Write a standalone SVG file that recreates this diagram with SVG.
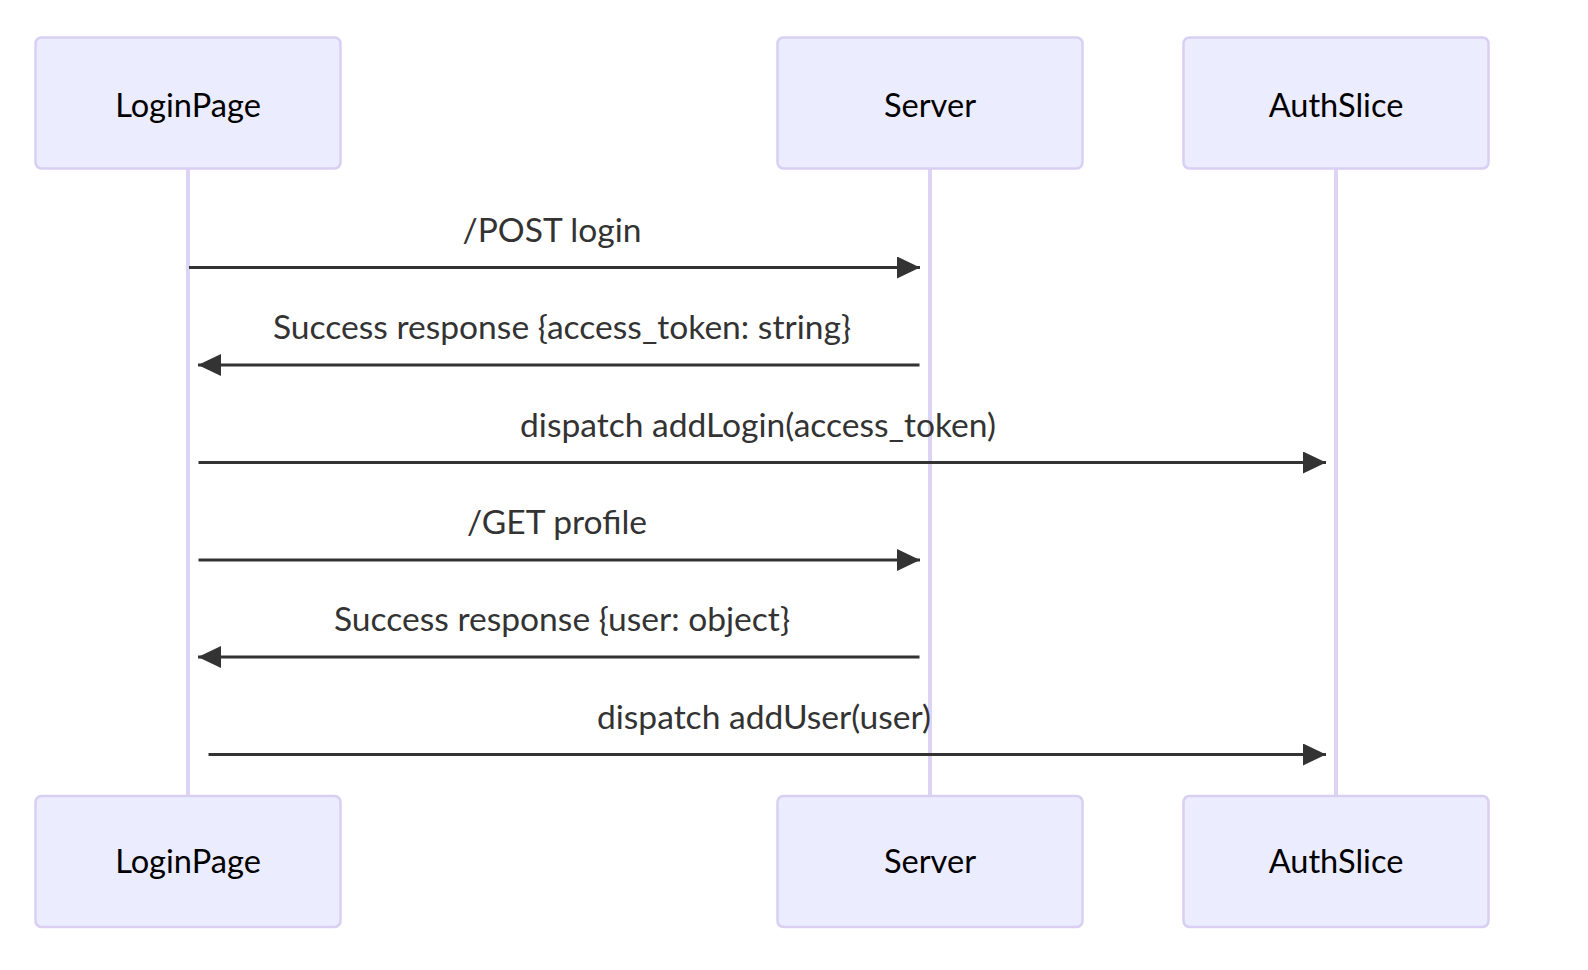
<svg xmlns="http://www.w3.org/2000/svg" width="1588" height="970" viewBox="0 0 1588 970">
<style>
.actor{fill:#ECECFF;stroke:#D8CFF3;stroke-width:2.5}
.atext{font-family:Lato,"Liberation Sans",sans-serif;font-size:32.6px;fill:#000;text-anchor:middle}
.life{stroke:#DCD3F5;stroke-width:4}
.msg{stroke:#333;stroke-width:3;fill:none;marker-end:url(#arrow)}
.mtext{font-family:Lato,"Liberation Sans",sans-serif;font-size:33.6px;fill:#333;text-anchor:middle}
</style>
<defs>
<marker id="arrow" markerUnits="userSpaceOnUse" markerWidth="24" markerHeight="24" refX="23" refY="11" orient="auto">
<path d="M0,0 L23,11 L0,22 z" fill="#333"/>
</marker>
</defs>
<rect width="1588" height="970" fill="#fff"/>
<g id="lifelines">
<line class="life" x1="188" y1="169" x2="188" y2="796"/>
<line class="life" x1="930" y1="169" x2="930" y2="796"/>
<line class="life" x1="1336" y1="169" x2="1336" y2="796"/>
</g>
<g id="LoginPage">
<rect class="actor" x="35.5" y="37.5" width="305" height="131" rx="6"/>
<text class="atext" x="188" y="117">LoginPage</text>
</g>
<g id="Server">
<rect class="actor" x="777.5" y="37.5" width="305" height="131" rx="6"/>
<text class="atext" x="930" y="117">Server</text>
</g>
<g id="AuthSlice">
<rect class="actor" x="1183.5" y="37.5" width="305" height="131" rx="6"/>
<text class="atext" x="1336" y="117">AuthSlice</text>
</g>
<g id="LoginPage-bottom">
<rect class="actor" x="35.5" y="796" width="305" height="131" rx="6"/>
<text class="atext" x="188" y="873">LoginPage</text>
</g>
<g id="Server-bottom">
<rect class="actor" x="777.5" y="796" width="305" height="131" rx="6"/>
<text class="atext" x="930" y="873">Server</text>
</g>
<g id="AuthSlice-bottom">
<rect class="actor" x="1183.5" y="796" width="305" height="131" rx="6"/>
<text class="atext" x="1336" y="873">AuthSlice</text>
</g>
<g id="connectors">
<line class="msg" x1="189" y1="267.5" x2="920" y2="267.5"/>
<text class="mtext" x="552" y="242">/POST login</text>
<line class="msg" x1="919.5" y1="365" x2="198" y2="365"/>
<text class="mtext" x="562" y="339">Success response {access_token: string}</text>
<line class="msg" x1="198.5" y1="462.5" x2="1326" y2="462.5"/>
<text class="mtext" x="758" y="437">dispatch addLogin(access_token)</text>
<line class="msg" x1="198.5" y1="560" x2="920" y2="560"/>
<text class="mtext" x="557" y="534">/GET profile</text>
<line class="msg" x1="919.5" y1="657" x2="198" y2="657"/>
<text class="mtext" x="562" y="631">Success response {user: object}</text>
<line class="msg" x1="208.5" y1="754.5" x2="1326" y2="754.5"/>
<text class="mtext" x="764" y="729">dispatch addUser(user)</text>
</g>
</svg>
